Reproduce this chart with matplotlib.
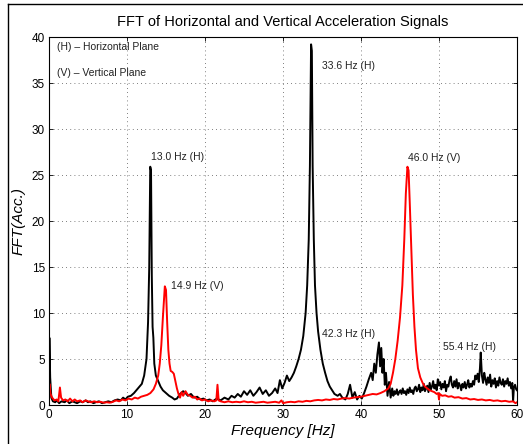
import matplotlib
matplotlib.use("Agg")
import matplotlib.pyplot as plt
from matplotlib.lines import Line2D

plt.rcParams['font.family'] = ['Liberation Sans', 'DejaVu Sans']

# Horizontal plane spectrum (frequency Hz, amplitude)
h_freq = [0.0, 0.05, 0.15, 0.3, 0.5, 0.8, 1.0, 1.3, 1.6, 2.0, 2.3, 2.6, 3.0, 3.3, 3.6, 4.0, 4.3, 4.7,
          5.0, 5.3, 5.7, 6.0, 6.4, 6.8, 7.2, 7.6, 8.0, 8.4, 8.8, 9.2, 9.5, 9.8, 10.1, 10.5, 10.9, 11.3,
          11.6, 11.9, 12.2, 12.5, 12.7, 12.85, 12.98, 13.08, 13.18, 13.28, 13.38, 13.5, 13.7, 14.0, 14.3,
          14.6, 15.0, 15.4, 15.8, 16.1, 16.4, 16.8, 17.2, 17.5, 17.8, 18.2, 18.6, 19.0, 19.4, 19.8, 20.2,
          20.6, 21.0, 21.5, 22.0, 22.5, 23.0, 23.4, 23.8, 24.2, 24.6, 25.0, 25.4, 25.8, 26.2, 26.6, 27.0,
          27.4, 27.8, 28.2, 28.6, 29.0, 29.3, 29.6, 29.9, 30.2, 30.5, 30.8, 31.1, 31.4, 31.7, 32.0, 32.3,
          32.6, 32.9, 33.1, 33.3, 33.45, 33.6, 33.7, 33.8, 33.95, 34.1, 34.3, 34.5, 34.8, 35.1, 35.4,
          35.7, 36.0, 36.3, 36.6, 37.0, 37.3, 37.6, 38.0, 38.3, 38.6, 38.9, 39.2, 39.5, 39.8, 40.1, 40.4,
          40.7, 41.0, 41.3, 41.5, 41.7, 41.9, 42.1, 42.3, 42.45, 42.6, 42.75, 42.9, 43.05, 43.2, 43.4,
          43.6, 43.8, 44.0, 44.15, 44.3, 44.45, 44.6, 44.75, 44.9, 45.05, 45.2, 45.35, 45.5, 45.65, 45.8,
          45.95, 46.1, 46.25, 46.4, 46.55, 46.7, 46.85, 47.0, 47.15, 47.3, 47.45, 47.6, 47.75, 47.9,
          48.05, 48.2, 48.35, 48.5, 48.65, 48.8, 48.95, 49.1, 49.25, 49.4, 49.55, 49.7, 49.85, 50.0,
          50.15, 50.3, 50.45, 50.6, 50.75, 50.9, 51.05, 51.2, 51.35, 51.5, 51.65, 51.8, 51.95, 52.1,
          52.25, 52.4, 52.55, 52.7, 52.85, 53.0, 53.15, 53.3, 53.45, 53.6, 53.75, 53.9, 54.05, 54.2,
          54.35, 54.5, 54.65, 54.8, 54.95, 55.1, 55.25, 55.35, 55.5, 55.65, 55.8, 55.95, 56.1, 56.25,
          56.4, 56.55, 56.7, 56.85, 57.0, 57.15, 57.3, 57.45, 57.6, 57.75, 57.9, 58.05, 58.2, 58.35,
          58.5, 58.65, 58.8, 58.95, 59.1, 59.25, 59.4, 59.5, 59.6, 59.75, 59.9, 60.0]
h_amp = [0.3, 7.3, 3.0, 0.8, 0.4, 0.3, 0.5, 0.2, 0.4, 0.3, 0.5, 0.2, 0.4, 0.3, 0.2, 0.4, 0.3, 0.5,
         0.3, 0.4, 0.2, 0.3, 0.4, 0.2, 0.3, 0.4, 0.3, 0.5, 0.6, 0.5, 0.8, 0.6, 0.9, 1.0, 1.3, 1.7,
         2.0, 2.3, 3.2, 5.0, 9.0, 15.0, 25.9, 25.5, 14.0, 8.5, 7.3, 4.5, 3.2, 2.6, 2.0,
         1.6, 1.3, 1.0, 0.8, 0.6, 0.7, 1.2, 1.5, 1.3, 1.0, 1.2, 0.8, 0.9, 0.6, 0.7, 0.5,
         0.6, 0.4, 0.7, 0.5, 0.8, 0.6, 1.0, 0.8, 1.2, 0.9, 1.5, 1.1, 1.6, 1.0, 1.4, 1.9,
         1.2, 1.6, 1.0, 1.3, 1.8, 1.3, 2.7, 1.8, 2.4, 3.2, 2.6, 3.0, 3.5, 4.2, 5.0, 6.0,
         7.5, 10.0, 13.0, 18.0, 26.0, 39.2, 38.5, 26.0, 18.0, 13.0, 10.0, 8.0, 6.0, 4.5, 3.5,
         2.6, 2.0, 1.6, 1.2, 1.0, 1.2, 0.8, 0.6, 1.2, 2.2, 0.8, 1.4, 0.6, 1.0, 0.7, 1.3,
         2.0, 2.8, 3.5, 2.7, 4.5, 3.5, 5.5, 6.8, 4.2, 6.2, 3.5, 5.0, 2.2, 3.5, 1.0,
         2.5, 0.8, 1.8, 1.0, 1.5, 1.2, 1.7, 1.1, 1.4, 1.6, 1.2, 1.8, 1.3, 1.5, 1.1,
         1.7, 1.3, 1.9, 1.4, 1.6, 1.2, 1.8, 2.0, 1.5, 1.7, 2.2, 1.4, 1.9, 1.6,
         2.3, 1.5, 1.8, 2.1, 1.4, 2.4, 1.7, 2.0, 2.6, 1.8, 2.2, 1.6, 2.8, 2.1,
         2.5, 1.7, 2.3, 1.9, 2.6, 1.5, 2.2, 2.0, 2.7, 3.1, 2.2, 1.9, 2.6, 2.0,
         2.8, 1.8, 2.4, 2.1, 1.6, 2.3, 1.9, 2.5, 1.8, 2.2, 2.7, 1.9, 2.3, 2.0,
         2.6, 2.2, 3.2, 2.8, 3.4, 2.5, 4.0, 5.7, 3.2, 2.4, 3.5, 2.8, 2.2, 3.0,
         2.4, 3.3, 2.0, 2.7, 2.3, 2.9, 1.9, 2.6, 2.1, 3.0, 2.4, 2.2, 2.8, 2.0,
         2.6, 2.3, 2.9, 2.1, 2.5, 1.8, 2.4, 0.4, 1.9, 2.2, 1.7, 1.6]

# Vertical plane spectrum
v_freq = [0.0, 0.05, 0.2, 0.4, 0.7, 1.0, 1.2, 1.4, 1.55, 1.8, 2.1, 2.4, 2.7, 3.0, 3.3, 3.6, 4.0, 4.3,
          4.7, 5.0, 5.4, 5.8, 6.2, 6.6, 7.0, 7.4, 7.8, 8.2, 8.6, 9.0, 9.4, 9.8, 10.2, 10.6, 11.0, 11.4,
          11.8, 12.2, 12.6, 13.0, 13.4, 13.7, 14.0, 14.2, 14.4, 14.6, 14.85, 15.0, 15.15, 15.3, 15.45,
          15.6, 15.8, 16.0, 16.2, 16.4, 16.6, 16.8, 17.0, 17.2, 17.5, 17.8, 18.1, 18.4, 18.7, 19.0, 19.3,
          19.6, 20.0, 20.4, 20.8, 21.2, 21.45, 21.6, 21.75, 22.0, 22.5, 23.0, 23.5, 24.0, 24.5, 25.0,
          25.5, 26.0, 26.5, 27.0, 27.5, 28.0, 28.5, 29.0, 29.5, 29.8, 30.0, 30.5, 31.0, 31.5, 32.0,
          32.5, 33.0, 33.5, 34.0, 34.5, 35.0, 35.5, 36.0, 36.5, 37.0, 37.5, 38.0, 38.5, 39.0, 39.5,
          40.0, 40.5, 41.0, 41.5, 42.0, 42.5, 43.0, 43.5, 43.8, 44.1, 44.4, 44.7, 45.0, 45.3, 45.55,
          45.75, 45.95, 46.1, 46.25, 46.45, 46.65, 46.85, 47.05, 47.3, 47.6, 47.9, 48.2, 48.5, 48.8,
          49.1, 49.4, 49.7, 49.9, 50.0, 50.1, 50.4, 50.8, 51.2, 51.6, 52.0, 52.5, 53.0, 53.5, 54.0,
          54.5, 55.0, 55.5, 56.0, 56.5, 57.0, 57.5, 58.0, 58.5, 59.0, 59.5, 59.8, 60.0]
v_amp = [0.5, 2.3, 1.2, 0.8, 0.5, 0.6, 0.4, 1.9, 0.8, 0.5, 0.6, 0.4, 0.7, 0.4, 0.6, 0.4, 0.5, 0.3,
         0.5, 0.4, 0.3, 0.4, 0.3, 0.35, 0.25, 0.3, 0.25, 0.35, 0.5, 0.4, 0.6, 0.5, 0.7, 0.6, 0.8, 0.7,
         0.9, 1.0, 1.1, 1.3, 1.7, 2.3, 3.2, 4.5, 6.5, 9.5, 12.9, 12.5, 9.0, 6.0, 4.5,
         3.7, 3.6, 3.4, 2.6, 1.8, 1.2, 0.8, 1.4, 1.0, 1.5, 1.1, 1.0, 0.8, 0.9, 0.6, 0.7,
         0.5, 0.6, 0.4, 0.5, 0.4, 0.5, 2.2, 0.5, 0.4, 0.3, 0.4, 0.3, 0.35, 0.3, 0.4,
         0.3, 0.35, 0.25, 0.3, 0.35, 0.25, 0.3, 0.35, 0.25, 0.5, 0.2, 0.3, 0.35, 0.3, 0.4,
         0.35, 0.45, 0.4, 0.5, 0.55, 0.5, 0.6, 0.55, 0.65, 0.6, 0.7, 0.75, 0.7, 0.8, 0.85,
         0.9, 1.0, 1.1, 1.2, 1.15, 1.3, 1.5, 1.8, 2.3, 3.5, 5.0, 7.0, 9.5, 13.0, 18.0,
         23.0, 25.9, 25.5, 22.0, 17.0, 12.0, 8.5, 6.0, 4.0, 3.0, 2.4, 2.0, 1.8, 1.6,
         1.5, 1.4, 1.2, 1.3, 0.6, 1.2, 1.0, 1.05, 0.9, 0.95, 0.8, 0.85, 0.7, 0.75, 0.6,
         0.65, 0.55, 0.6, 0.5, 0.55, 0.45, 0.5, 0.4, 0.45, 0.35, 0.4, 0.2, 0.3]

x_ticks = [0, 10, 20, 30, 40, 50, 60]
y_ticks = [0, 5, 10, 15, 20, 25, 30, 35, 40]

peak_labels = ["13.0 Hz (H)", "14.9 Hz (V)", "33.6 Hz (H)", "46.0 Hz (V)", "42.3 Hz (H)", "55.4 Hz (H)"]
peak_label_pos = [(13.1, 27.0), (15.6, 12.9), (35.0, 36.8), (46.0, 26.9), (35.0, 7.75), (50.5, 6.3)]

fig = plt.figure(figsize=(5.23, 4.44), dpi=100)
ax = fig.add_axes([49/523, 39/444, 468/523, 368/444])

ax.plot(h_freq, h_amp, color='black', lw=1.4)
ax.plot(v_freq, v_amp, color='#ff0000', lw=1.4)

ax.set_xlim(0, 60)
ax.set_ylim(0, 40)
ax.set_xticks(x_ticks)
ax.set_yticks(y_ticks)
ax.grid(True, linestyle=(0, (1, 4)), color='#555555', lw=0.6)
ax.tick_params(direction='in', length=3, width=0.6, labelsize=8.5, top=True, right=True, pad=3)
for s in ax.spines.values():
    s.set_linewidth(0.8)

ax.set_title("FFT of Horizontal and Vertical Acceleration Signals", fontsize=10.5, pad=8)
ax.set_xlabel("Frequency [Hz]", fontsize=11, style='italic', labelpad=2)
ax.set_ylabel("FFT(Acc.)", fontsize=11, style='italic', labelpad=4)

for lab, (x, y) in zip(peak_labels, peak_label_pos):
    ax.text(x, y, lab, fontsize=7.5, ha='left', va='center', color='#222222')

ax.text(1.07, 38.95, "(H) \u2013 Horizontal Plane", fontsize=7.5, ha='left', va='center', color='#222222')
ax.text(1.07, 36.1, "(V) \u2013 Vertical Plane", fontsize=7.5, ha='left', va='center', color='#222222')

# figure border (left and top edges)
fig.add_artist(Line2D([8/523, 8/523], [0, 1 - 4/444], transform=fig.transFigure, color='black', lw=1))
fig.add_artist(Line2D([8/523, 1], [1 - 4/444, 1 - 4/444], transform=fig.transFigure, color='black', lw=1))

fig.savefig("out.png", dpi=100)
